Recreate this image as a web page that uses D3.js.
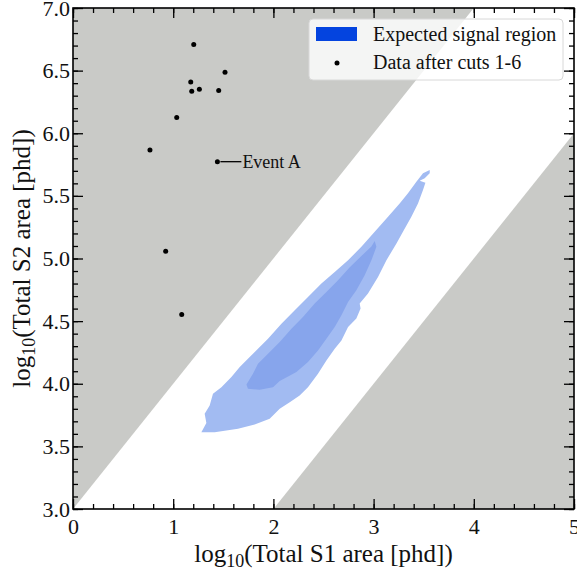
<!DOCTYPE html>
<html>
<head>
<meta charset="utf-8">
<script src="https://cdn.jsdelivr.net/npm/d3@7"></script>
<style>
  body{margin:0;background:#fff;}
  text{font-family:"Liberation Serif","DejaVu Serif",serif;fill:#111;}
</style>
</head>
<body>
<div id="chart"></div>
<script>
// data, in log10 units
var xTicks=[0,1,2,3,4,5];
var yTicks=[3.0,3.5,4.0,4.5,5.0,5.5,6.0,6.5,7.0];

// excluded regions (grey) as [s1,s2] corners
var bandUpper=[[0,3],[0,7],[4,7]];
var bandLower=[[2,3],[5,3],[5,6]];

// expected signal region contours
var outerContour=[[3.56,5.706],[3.56,5.68],[3.51,5.64],[3.46,5.621],[3.517,5.605],[3.493,5.546],[3.443,5.44],
  [3.377,5.333],[3.293,5.213],[3.228,5.12],[3.128,4.986],[3.044,4.853],[2.944,4.72],[2.861,4.64],[2.87,4.6],
  [2.828,4.52],[2.745,4.453],[2.679,4.346],[2.612,4.28],[2.529,4.186],[2.445,4.08],[2.345,3.973],[2.262,3.906],
  [2.163,3.853],[2.063,3.8],[1.963,3.72],[1.813,3.674],[1.647,3.64],[1.414,3.613],[1.281,3.613],[1.331,3.686],
  [1.314,3.76],[1.364,3.826],[1.397,3.92],[1.481,3.973],[1.581,4.053],[1.664,4.133],[1.746,4.2],[1.846,4.28],
  [1.946,4.36],[2.08,4.48],[2.213,4.586],[2.345,4.693],[2.479,4.8],[2.612,4.893],[2.745,4.986],[2.878,5.093],
  [3.011,5.213],[3.144,5.333],[3.26,5.44],[3.343,5.52],[3.427,5.613],[3.493,5.68]];
var innerContour=[[3.011,5.14],[3.028,5.093],[2.978,4.986],[2.911,4.866],[2.828,4.746],[2.745,4.653],[2.679,4.546],
  [2.612,4.453],[2.529,4.36],[2.445,4.266],[2.345,4.173],[2.23,4.093],[2.063,4.021],[1.996,3.973],[1.863,3.952],
  [1.746,3.96],[1.731,3.994],[1.796,4.08],[1.846,4.16],[1.946,4.24],[2.063,4.333],[2.18,4.44],[2.295,4.533],
  [2.412,4.64],[2.529,4.733],[2.645,4.826],[2.762,4.93],[2.878,5.02],[2.978,5.096]];

// data after cuts 1-6
var eventS1=[1.205,1.517,1.175,1.185,1.261,1.454,1.035,0.768,1.441,0.925,1.085];
var eventS2=[6.709,6.488,6.41,6.336,6.352,6.341,6.125,5.866,5.773,5.058,4.552];
var eventA=8;   // index of the labelled event

var legendLabels=["Expected signal region","Data after cuts 1-6"];

var margin={top:8,right:3,bottom:64,left:73};
var width=577, height=573;
var plotW=width-margin.left-margin.right;
var plotH=height-margin.top-margin.bottom;

var svg=d3.select('#chart').append('svg')
  .attr('width',width)
  .attr('height',height);

var x=d3.scaleLinear().domain([0,5]).range([margin.left,margin.left+plotW]);
var y=d3.scaleLinear().domain([3,7]).range([margin.top+plotH,margin.top]);

svg.append('clipPath').attr('id','plotClip')
  .append('rect').attr('x',margin.left).attr('y',margin.top).attr('width',plotW).attr('height',plotH);

var plot=svg.append('g').attr('clip-path','url(#plotClip)');
var line=d3.line().x(d=>x(d[0])).y(d=>y(d[1])).curve(d3.curveLinearClosed);

//grey excluded bands
plot.selectAll('path.band')
  .data([bandUpper,bandLower])
  .join('path')
    .attr('class','band')
    .attr('d',line)
    .attr('fill','#c9cac7');

//signal region
plot.append('path').attr('d',line(outerContour)).attr('fill','#a2bbf2');
plot.append('path').attr('d',line(innerContour)).attr('fill','#87a5ec');

//events
plot.selectAll('circle.evt')
  .data(eventS1.map((s1,i)=>[s1,eventS2[i]]))
  .join('circle')
    .attr('class','evt')
    .attr('cx',d=>x(d[0]))
    .attr('cy',d=>y(d[1]))
    .attr('r',2.5)
    .attr('fill','#000');

//Event A label
var ax=x(eventS1[eventA]), ay=y(eventS2[eventA]);
svg.append('line')
  .attr('x1',ax+3).attr('x2',ax+24).attr('y1',ay).attr('y2',ay)
  .attr('stroke','#000').attr('stroke-width',1.3);
svg.append('text')
  .attr('x',ax+25).attr('y',ay+6)
  .style('font-size','18px')
  .text('Event A');

//axes, ticks pointing inward on all sides
function minor(step,dom){ return d3.range(dom[0],dom[1]+1e-9,step); }
var xMinor=minor(0.2,[0,5]), yMinor=minor(0.1,[3,7]);

function styleAxis(g){
  g.select('.domain').remove();
  g.selectAll('line').attr('stroke','#000').attr('stroke-width',1.3);
  g.selectAll('text').style('font-size','22px').attr('fill','#111');
}

svg.append('g').attr('transform','translate(0,'+(margin.top+plotH)+')')
  .call(d3.axisBottom(x).tickValues(xMinor).tickSize(-5).tickFormat('')).call(styleAxis);
svg.append('g').attr('transform','translate(0,'+(margin.top+plotH)+')')
  .call(d3.axisBottom(x).tickValues(xTicks).tickSize(-10).tickPadding(9).tickFormat(d3.format('d'))).call(styleAxis);
svg.append('g').attr('transform','translate(0,'+margin.top+')')
  .call(d3.axisTop(x).tickValues(xMinor).tickSize(-5).tickFormat('')).call(styleAxis);
svg.append('g').attr('transform','translate(0,'+margin.top+')')
  .call(d3.axisTop(x).tickValues(xTicks).tickSize(-10).tickFormat('')).call(styleAxis);

svg.append('g').attr('transform','translate('+margin.left+',0)')
  .call(d3.axisLeft(y).tickValues(yMinor).tickSize(-5).tickFormat('')).call(styleAxis);
svg.append('g').attr('transform','translate('+margin.left+',0)')
  .call(d3.axisLeft(y).tickValues(yTicks).tickSize(-10).tickPadding(3).tickFormat(d3.format('.1f'))).call(styleAxis);
svg.append('g').attr('transform','translate('+(margin.left+plotW)+',0)')
  .call(d3.axisRight(y).tickValues(yMinor).tickSize(-5).tickFormat('')).call(styleAxis);
svg.append('g').attr('transform','translate('+(margin.left+plotW)+',0)')
  .call(d3.axisRight(y).tickValues(yTicks).tickSize(-10).tickFormat('')).call(styleAxis);

//frame
svg.append('rect')
  .attr('x',margin.left).attr('y',margin.top).attr('width',plotW).attr('height',plotH)
  .attr('fill','none').attr('stroke','#000').attr('stroke-width',1.6);

//axis titles
var xt=svg.append('text')
  .attr('x',margin.left+plotW/2).attr('y',562)
  .attr('text-anchor','middle')
  .style('font-size','25px');
xt.append('tspan').text('log');
xt.append('tspan').attr('dy',5).style('font-size','18px').text('10');
xt.append('tspan').attr('dy',-5).text('(Total S1 area [phd])');

var yt=svg.append('text')
  .attr('transform','translate(30,'+(margin.top+plotH/2)+') rotate(-90)')
  .attr('text-anchor','middle')
  .style('font-size','25px');
yt.append('tspan').text('log');
yt.append('tspan').attr('dy',5).style('font-size','18px').text('10');
yt.append('tspan').attr('dy',-5).text('(Total S2 area [phd])');

//legend
var lg=svg.append('g').attr('transform','translate(309,19)');
lg.append('rect')
  .attr('width',254).attr('height',61).attr('rx',4)
  .attr('fill','#fff').attr('fill-opacity',0.8)
  .attr('stroke','#d8d8d8').attr('stroke-width',1);
lg.append('rect').attr('x',7).attr('y',8).attr('width',41).attr('height',14).attr('fill','#0444df');
lg.append('circle').attr('cx',28).attr('cy',44).attr('r',2.5).attr('fill','#000');
lg.selectAll('text.lab')
  .data(legendLabels)
  .join('text')
    .attr('class','lab')
    .attr('x',64)
    .attr('y',(d,i)=>22+i*28)
    .style('font-size','20px')
    .text(d=>d);
</script>
</body>
</html>
